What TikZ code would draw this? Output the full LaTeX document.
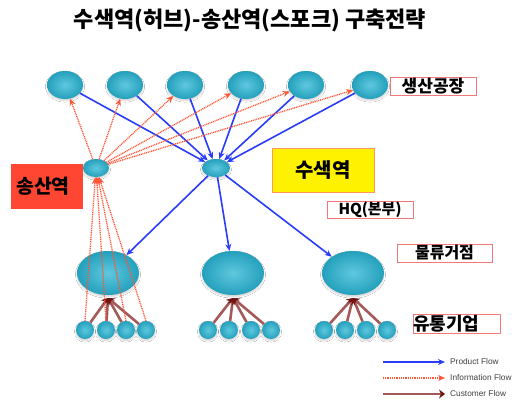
\documentclass[tikz,border=0pt]{standalone}
\usepackage{fontspec}
\setmainfont{Liberation Sans}
\newfontfamily\kr{Noto Sans CJK KR}
\usetikzlibrary{shapes.geometric,arrows.meta,shadows.blur}
\definecolor{tealA}{RGB}{95,200,222}
\definecolor{tealB}{RGB}{36,160,188}
\definecolor{prodblue}{RGB}{40,60,250}
\definecolor{infored}{RGB}{255,85,55}
\definecolor{custbrown}{RGB}{165,90,90}
\definecolor{custdark}{RGB}{115,20,20}
\definecolor{boxred}{RGB}{240,120,120}
\definecolor{spred}{RGB}{255,70,50}
\definecolor{hqorange}{RGB}{255,150,90}
\begin{document}
\begin{tikzpicture}[x=1pt,y=-1pt,
  hubshape/.style={ellipse, inner sep=0pt, shading=radial, inner color=tealA, outer color=tealB,
    blur shadow={shadow blur steps=6, shadow blur radius=1.5pt, shadow xshift=0pt, shadow yshift=-1.6pt, shadow opacity=18}},
  top/.style={hubshape, minimum width=36pt, minimum height=28pt},
  mid/.style={hubshape, minimum width=62pt, minimum height=44pt},
  leaf/.style={hubshape, minimum width=18pt, minimum height=18pt},
  prod/.style={draw=prodblue, line width=1.6pt, -{Stealth[length=7pt,width=6pt]}},
  info/.style={draw=infored, line width=1.3pt, dash pattern=on 1pt off 0.8pt, -{Stealth[length=7pt,width=6pt]}},
  cust/.style={draw=custbrown, line width=2.6pt, -{Stealth[length=6pt,width=9pt,color=custdark]}},
  lbl/.style={draw=boxred, line width=0.7pt, inner sep=0pt, font=\kr\bfseries\fontsize{16}{16}\selectfont},
  legtxt/.style={anchor=west, inner sep=0pt, font=\fontsize{8.3}{9}\selectfont, text=black!75}
]
\useasboundingbox (0,0) rectangle (531,402);
\fill[white] (0,0) rectangle (531,402);

% title
\node[font=\kr\bfseries\fontsize{22}{22}\selectfont] (title) at (250,20) {수색역(허브)-송산역(스포크) 구축전략};

% top row (production plants)
\foreach \i/\x in {1/65,2/125,3/185,4/246,5/306,6/370}
  \node[top] (t\i) at (\x,85) {};

% hubs
\node[hubshape, minimum width=26pt, minimum height=18pt] (sp) at (96,168) {};
\node[hubshape, minimum width=28pt, minimum height=18pt] (hq) at (216,168) {};

% middle row (logistics bases)
\node[mid] (m1) at (108,273) {};
\node[mid] (m2) at (233,273) {};
\node[mid] (m3) at (353,273) {};

% bottom row (distribution companies)
\foreach \j/\x in {1/85,2/106,3/126,4/146} \node[leaf] (a\j) at (\x,330) {};
\foreach \j/\x in {1/208,2/229,3/251,4/271} \node[leaf] (b\j) at (\x,330) {};
\foreach \j/\x in {1/324,2/345,3/366,4/387} \node[leaf] (c\j) at (\x,330) {};

\coordinate (ca) at (108,298);
\coordinate (cb) at (233,298);
\coordinate (cc) at (353,298);

% customer flows
\foreach \j in {1,...,4} {
  \draw[cust] (a\j) -- (ca);
  \draw[cust] (b\j) -- (cb);
  \draw[cust] (c\j) -- (cc);
}

% product flows
\foreach \i in {1,...,6} \draw[prod] (t\i) -- (hq);
\draw[prod] (hq) -- (m1);
\draw[prod] (hq) -- (m2);
\draw[prod] (hq) -- (m3);

% information flows
\foreach \i in {1,...,6} \draw[info] (sp) -- (t\i);
\foreach \j in {1,...,4} \draw[info] (a\j.north) -- (sp);

% labels
\node[lbl, minimum width=86pt, minimum height=18pt, font=\kr\bfseries\fontsize{17}{17}\selectfont] (lplant) at (433,86) {생산공장};
\node[fill=spred, inner sep=0pt, minimum width=72pt, minimum height=45pt, font=\kr\bfseries\fontsize{19.5}{19.5}\selectfont] (lsp) at (47,186.5) {송산역\hspace*{8pt}};
\node[fill=yellow, draw=hqorange, line width=0.8pt, inner sep=0pt, minimum width=102pt, minimum height=44pt, font=\kr\bfseries\fontsize{20}{20}\selectfont] (lhq) at (323,170) {수색역};
\node[lbl, minimum width=86pt, minimum height=17pt, font=\kr\bfseries\fontsize{15}{15}\selectfont] (lhq2) at (370,209.5) {HQ(본부)};
\node[lbl, minimum width=95pt, minimum height=18pt] (lbase) at (444.5,253) {물류거점};
\node[lbl, minimum width=87pt, minimum height=19pt, text width=87pt, align=left, font=\kr\bfseries\fontsize{18}{18}\selectfont] (lcomp) at (456.5,323.5) {유통기업};

% legend
\coordinate (p1) at (383,362); \coordinate (p2) at (445,362);
\coordinate (i1) at (383,378); \coordinate (i2) at (445,378);
\coordinate (u1) at (383,394); \coordinate (u2) at (445,394);
\draw[prod] (p1) -- (p2);
\draw[info] (i1) -- (i2);
\draw[cust] (u1) -- (u2);
\node[legtxt] (tp) at (450,362) {Product Flow};
\node[legtxt] (ti) at (450,378) {Information Flow};
\node[legtxt] (tu) at (450,394) {Customer Flow};
\end{tikzpicture}
\end{document}
